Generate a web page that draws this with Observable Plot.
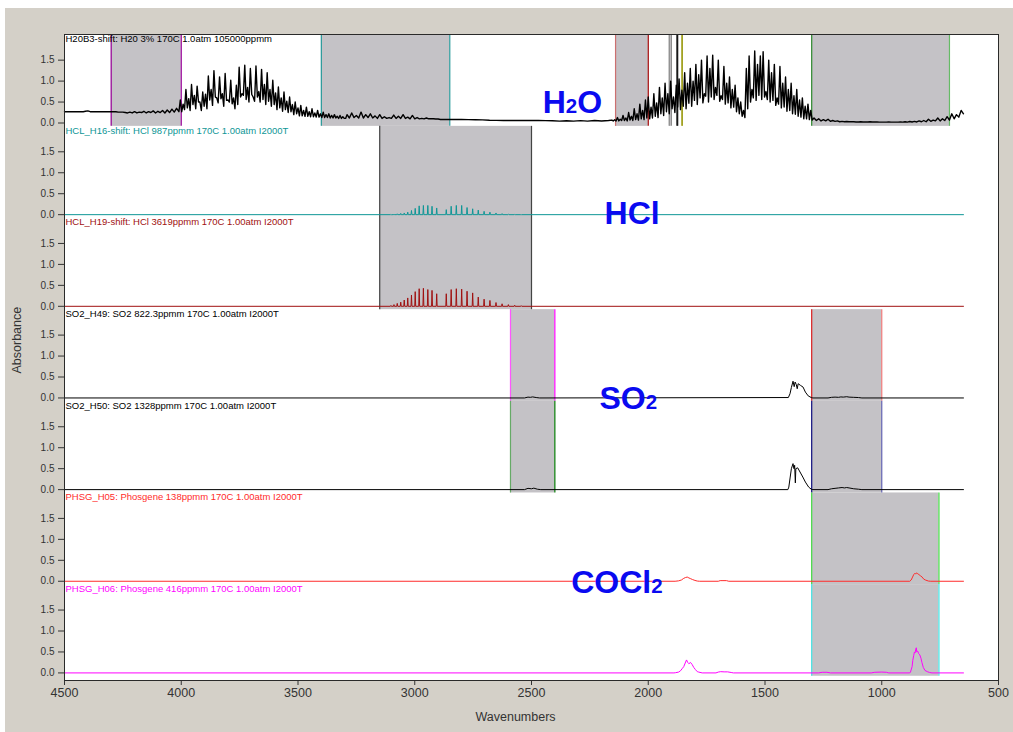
<!DOCTYPE html>
<html>
<head>
<meta charset="utf-8">
<script src="https://cdn.jsdelivr.net/npm/d3@7"></script>
<script src="https://cdn.jsdelivr.net/npm/@observablehq/plot@0.6"></script>
<style>
  body { margin: 0; background: #ffffff; }
  #chart { position: absolute; left: 5px; top: 8px; width: 1008px; height: 724px; background: #d4d0c8; }
</style>
</head>
<body>
<div id="chart"></div>
<script>
// ---- stacked reference spectra: seven panels sharing one wavenumber axis ----

const panelTitles = [
  "H20B3-shift: H20 3% 170C 1.0atm 105000ppmm",
  "HCL_H16-shift: HCl 987ppmm 170C 1.00atm I2000T",
  "HCL_H19-shift: HCl 3619ppmm 170C 1.00atm I2000T",
  "SO2_H49: SO2 822.3ppmm 170C 1.00atm I2000T",
  "SO2_H50: SO2 1328ppmm 170C 1.00atm I2000T",
  "PHSG_H05: Phosgene 138ppmm 170C 1.00atm I2000T",
  "PHSG_H06: Phosgene 416ppmm 170C 1.00atm I2000T"
];
const panelColors = ["#000000", "#0e9696", "#a01010", "#000000", "#000000", "#ff2b2b", "#ff00ff"];
const panelStrokeWidths = [1.4, 1, 1, 1, 1, 1, 1];

const xTicks = [4500, 4000, 3500, 3000, 2500, 2000, 1500, 1000, 500];
const yTickValues = [0, 0.5, 1.0, 1.5];

// Water vapour, sampled on regular wavenumber grids (start, step)
const h2oEdgeStart = 4500, h2oEdgeStep = 10;
const h2oEdge = [
  0.27,0.27,0.27,0.27,0.27,0.27,0.27,0.27,0.27,0.28,
  0.29,0.27,0.27,0.27,0.27,0.27,0.27,0.27,0.27,0.27,
  0.27,0.27,0.27,0.26,0.26,0.26,0.25,
  0.24,0.26,0.24,0.27,0.24,0.26,0.25,0.28,0.24,0.27,
  0.25,0.29,0.24,0.28,0.25,0.30,0.24,0.31,0.25,0.33,
  0.26,0.35,0.27
];
const h2oStretchStart = 4004, h2oStretchStep = 6;
const h2oStretch = [
  0.55,0.27, 0.45,0.32, 0.80,0.36, 0.58,0.30, 0.92,0.44,
  0.66,0.34, 0.88,0.50, 0.50,0.30, 0.74,0.40, 0.69,0.34,
  1.12,0.55, 0.80,0.42, 1.25,0.62, 0.60,0.48, 1.10,0.58,
  0.70,0.40, 1.18,0.54, 0.55,0.50, 1.02,0.46, 0.60,0.34,
  0.90,0.44, 1.33,0.62, 0.70,0.66, 1.38,0.56, 0.85,0.50,
  1.30,0.68, 0.62,0.52, 1.36,0.62, 0.75,0.50, 1.28,0.56,
  0.92,0.44, 1.20,0.52, 0.80,0.40, 1.02,0.44, 0.72,0.32,
  0.86,0.36, 0.60,0.28, 0.74,0.32, 0.52,0.25, 0.62,0.27,
  0.44,0.20, 0.50,0.22, 0.36,0.17, 0.42,0.17, 0.30,0.16,
  0.38,0.16, 0.27,0.15, 0.34,0.15, 0.24,0.14, 0.30,0.14,
  0.22,0.13, 0.26,0.13, 0.20,0.13, 0.22,0.12, 0.18,0.12,
  0.20,0.12, 0.16,0.11, 0.18,0.11, 0.15,0.11, 0.11
];
const h2oQuietStart = 3290, h2oQuietStep = 10;
const h2oQuiet = [
  0.20,0.12,0.24,0.13,0.18,0.12,0.26,0.12,0.20,0.13,
  0.22,0.12,0.17,0.11,0.20,0.11,0.15,0.11,0.13,0.11,
  0.19,0.11,0.16,0.11,0.20,0.11,0.14,0.10,0.18,0.10,
  0.13,0.10,0.11,0.10,0.12,0.10,0.10,0.10,0.095,0.095
];
const h2oFlatStart = 2890, h2oFlatStep = 30;
const h2oFlat = [
  0.085,0.085,0.083,0.082,0.080,0.078,0.075,0.065,0.062,0.060,
  0.060,0.060,0.060,0.060,0.060,0.058,0.055,0.045,0.055,0.045,
  0.058,0.045,0.060,0.048,0.060
];
const h2oBendStart = 2156, h2oBendStep = 6;
const h2oBend = [
  0.07,0.05, 0.08,0.05, 0.13,0.05, 0.09,0.06, 0.18,0.06,
  0.12,0.05, 0.25,0.07, 0.16,0.06, 0.34,0.08, 0.22,0.07,
  0.45,0.10, 0.30,0.08, 0.55,0.12, 0.62,0.10, 0.38,0.12,
  0.70,0.16, 0.48,0.13, 0.85,0.22, 0.60,0.18, 0.95,0.27,
  0.70,0.22, 1.00,0.34, 0.62,0.25, 0.90,0.38, 1.05,0.32,
  0.78,0.40, 1.20,0.34, 0.95,0.47, 1.30,0.40, 1.00,0.54,
  1.40,0.44, 1.15,0.60, 1.50,0.48, 0.70,0.64, 1.60,0.50,
  1.30,0.62, 1.62,0.56, 0.85,0.66, 1.50,0.52, 0.65,0.56,
  1.35,0.45, 0.95,0.48, 1.10,0.36, 0.80,0.38, 0.90,0.27,
  0.60,0.22, 0.50,0.16, 0.30,0.13, 1.30,0.34, 1.60,0.50,
  0.80,0.60, 1.72,0.54, 1.40,0.66, 1.60,0.56, 1.70,0.62,
  0.75,0.56, 1.50,0.50, 1.20,0.54, 1.40,0.42, 0.60,0.45,
  1.35,0.36, 0.95,0.38, 1.10,0.28, 0.80,0.30, 0.95,0.22,
  0.65,0.21, 0.80,0.16, 0.55,0.14, 0.60,0.10, 0.40,0.10,
  0.45,0.08, 0.30,0.07
];
const h2oTailStart = 1290, h2oTailStep = 10;
const h2oTail = [
  0.12,0.06,0.10,0.05,0.08,0.05,0.09,0.04,0.06,0.04,
  0.05,0.03,0.04,0.03,0.035,0.03,0.03,0.03,0.025,0.025,
  0.03,0.025,0.025,0.025,0.03,0.025,0.025,0.025,0.02,0.02,
  0.02,0.02,0.025,0.02,0.02,0.02,0.02,0.025,0.02,0.03,
  0.02,0.035,0.025,0.04,0.025,0.05,0.03,0.06,0.03,0.09,
  0.04,0.07,0.05,0.12,0.05,0.10,0.06,0.15,0.07,0.22,
  0.10,0.20,0.14,0.30,0.22
];

// HCl rotational lines (R12 … R0, P1 … P14)
const hclLineWn = [3102,3089,3075,3060,3045,3030,3014,2998,2981,2963,2944,2926,2906,
                   2865,2844,2822,2799,2776,2752,2728,2703,2678,2652,2626,2599,2572,2544];
const hcl987 = [0.01,0.015,0.02,0.03,0.04,0.06,0.10,0.15,0.21,0.22,0.22,0.20,0.16,
                0.12,0.20,0.22,0.22,0.17,0.14,0.11,0.08,0.06,0.04,0.025,0.01,0.005,0];
const hcl3619 = [0.02,0.04,0.07,0.10,0.15,0.20,0.27,0.35,0.42,0.43,0.40,0.38,0.30,
                 0.30,0.40,0.42,0.41,0.36,0.32,0.22,0.17,0.14,0.09,0.06,0.04,0.025,0.015];

// SO2
const so2LowWn = [4500,2530,2515,2505,2495,2480,2465,1400,1393,1387,1380,1375,1371,1366,1362,1358,1348,1337,1327,1315,1302,1295,
                  1230,1215,1200,1185,1175,1165,1150,1140,1120,1100,1085,650];
const so2LowA  = [0,0,0.02,0.015,0.025,0.01,0,0.01,0.10,0.25,0.40,0.27,0.38,0.32,0.22,0.34,0.30,0.26,0.14,0.05,0.01,0,
                  0,0.015,0.02,0.015,0.025,0.02,0.03,0.02,0.015,0.01,0,0];
const so2HighWn = [4500,2530,2515,2500,2490,2475,2460,1402,1398,1392,1387,1380,1376,1373,1370,1368,1360,1350,1338,1327,1313,1302,1295,
                   1230,1215,1200,1185,1170,1160,1150,1140,1120,1100,1085,650];
const so2HighA  = [0,0,0.03,0.02,0.035,0.01,0,0,0.06,0.30,0.50,0.62,0.50,0.58,0.16,0.50,0.52,0.42,0.30,0.18,0.06,0.01,0,
                   0,0.02,0.03,0.04,0.05,0.04,0.05,0.04,0.02,0.01,0,0];

// Phosgene
const cocl2LowWn = [4500,1885,1870,1858,1848,1840,1833,1826,1818,1810,1800,1790,1780,1700,1692,1680,1665,1655,
                    880,874,868,863,858,855,851,846,841,834,827,820,813,800,790,650];
const cocl2LowA  = [0,0,0.01,0.03,0.07,0.09,0.10,0.08,0.06,0.04,0.02,0.005,0,0,0.015,0.015,0.015,0,
                    0,0.03,0.10,0.16,0.19,0.17,0.20,0.18,0.16,0.13,0.10,0.05,0.03,0.005,0,0];
const cocl2HighWn = [4500,1890,1883,1870,1862,1855,1848,1840,1836,1831,1826,1819,1812,1805,1798,1790,1784,1769,
                     1710,1700,1690,1675,1660,1645,1635,1270,1255,1235,1220,1045,1030,1000,980,970,
                     880,877,870,867,863,860,857,855,852,850,846,842,837,832,828,822,815,805,795,785,650];
const cocl2HighA  = [0,0,0.005,0.02,0.05,0.10,0.15,0.26,0.31,0.25,0.22,0.25,0.20,0.13,0.08,0.03,0.02,0,
                     0,0.02,0.03,0.025,0.025,0.01,0,0,0.015,0.015,0,0,0.015,0.02,0.015,0,
                     0,0.02,0.15,0.30,0.42,0.50,0.48,0.55,0.60,0.50,0.52,0.46,0.43,0.35,0.25,0.13,0.06,0.03,0.01,0,0];

// Shaded analysis windows: panels covered (top..bottom), wavenumber edges, edge colours
const windowTop    = [0,0,0,0,0,0,0,1,3,4,3,4,5,6];
const windowBottom = [0,0,0,0,0,0,0,2,3,4,3,4,5,6];
const windowHi     = [4300,3400,2140,1910,1877,1855,1300,3150,2590,2590,1300,1300,1300,1300];
const windowLo     = [4000,2850,2000,1901,1874,1855,710,2500,2400,2400,1000,1000,755,755];
const windowEdgeHi = ["#990099","#2a9a9a","#cc7070","#8a8a8a","#111111","#9a9a10","#2e8b2e","#444444","#ff55ff","#66aa66","#dd2020","#101080","#44dd44","#44e6e6"];
const windowEdgeLo = ["#990099","#2a9a9a","#a00000","#8a8a8a","#111111","#9a9a10","#66bb66","#444444","#ff00ff","#007700","#ee7777","#6060b0","#44dd44","#44e6e6"];

// Formula annotations
const formulaText  = ["H2O", "HCl", "SO2", "COCl2"];
const formulaPanel = [0, 1, 3, 5];
const formulaWn    = [2452, 2187, 2209, 2330];
const formulaBase  = [0.243, -0.217, -0.27, -0.284];

// ---- layout of the stack ----
const SPACING = 2.187;      // absorbance units allotted to each panel
const FLOOR = -0.181;       // room below the lowest baseline
const HEAD = 2.112;         // room above the top baseline
const nPanels = panelTitles.length;
const offsetOf = k => (nPanels - 1 - k) * SPACING;

const grid = (start, step, values) => values.map((a, i) => ({wn: start - i * step, a}));
const pairs = (wns, values) => wns.map((wn, i) => ({wn, a: values[i]}));
function lineSpectrum(centers, heights) {
  const pts = [{wn: 4500, a: 0}];
  centers.forEach((c, i) => {
    pts.push({wn: c + 2, a: 0}, {wn: c, a: heights[i]}, {wn: c - 2, a: 0});
  });
  pts.push({wn: 650, a: 0});
  return pts;
}

const spectra = [
  [...grid(h2oEdgeStart, h2oEdgeStep, h2oEdge),
   ...grid(h2oStretchStart, h2oStretchStep, h2oStretch),
   ...grid(h2oQuietStart, h2oQuietStep, h2oQuiet),
   ...grid(h2oFlatStart, h2oFlatStep, h2oFlat),
   ...grid(h2oBendStart, h2oBendStep, h2oBend),
   ...grid(h2oTailStart, h2oTailStep, h2oTail)],
  lineSpectrum(hclLineWn, hcl987),
  lineSpectrum(hclLineWn, hcl3619),
  pairs(so2LowWn, so2LowA),
  pairs(so2HighWn, so2HighA),
  pairs(cocl2LowWn, cocl2LowA),
  pairs(cocl2HighWn, cocl2HighA)
];

const windows = windowHi.map((hi, i) => ({
  hi, lo: windowLo[i],
  y1: offsetOf(windowBottom[i]) - 0.08,
  y2: offsetOf(windowTop[i]) + SPACING - 0.08,
  edgeHi: windowEdgeHi[i], edgeLo: windowEdgeLo[i]
}));

const yTicks = [];
const yTickLabel = new Map();
for (let k = 0; k < nPanels; k++) {
  for (const v of yTickValues) {
    const pos = offsetOf(k) + v;
    yTicks.push(pos);
    yTickLabel.set(pos, v.toFixed(1));
  }
}

const formulas = formulaText.map((t, i) => ({t, wn: formulaWn[i], y: offsetOf(formulaPanel[i]) + formulaBase[i]}));

const font = "'Liberation Sans', Arial, Helvetica, sans-serif";

const plot = Plot.plot({
  width: 1008,
  height: 724,
  marginLeft: 59,
  marginRight: 15,
  marginTop: 26,
  marginBottom: 52,
  style: {background: "#d4d0c8", fontFamily: font, color: "#333333"},
  x: {domain: [4500, 500]},
  y: {domain: [FLOOR, offsetOf(0) + HEAD]},
  color: {type: "identity"},
  marks: [
    Plot.frame({fill: "white", stroke: "none"}),
    Plot.rect(windows, {x1: "hi", x2: "lo", y1: "y1", y2: "y2", fill: "#c4c2c6"}),
    Plot.ruleX(windows, {x: "hi", y1: "y1", y2: "y2", stroke: "edgeHi", strokeWidth: 1.2}),
    Plot.ruleX(windows, {x: "lo", y1: "y1", y2: "y2", stroke: "edgeLo", strokeWidth: 1.2}),
    ...spectra.map((pts, k) => Plot.line(pts, {
      x: "wn", y: d => d.a + offsetOf(k), stroke: panelColors[k], strokeWidth: panelStrokeWidths[k]
    })),
    Plot.text(panelTitles, {
      x: 4500, y: (d, i) => offsetOf(i) + SPACING, text: d => d,
      fill: (d, i) => panelColors[i], textAnchor: "start", lineAnchor: "bottom",
      dx: 1, dy: 10.8, fontSize: 9.5
    }),
    Plot.text(formulas, {
      x: "wn", y: "y", text: "t", textAnchor: "start", lineAnchor: "bottom",
      fill: "#0a0af0", fontSize: 32, fontWeight: "bold"
    }),
    Plot.axisX({ticks: xTicks, tickFormat: "d", tickSize: 5, tickPadding: 3, fontSize: 12.5, label: null}),
    Plot.axisY({ticks: yTicks, tickFormat: d => yTickLabel.get(d), tickSize: 6, tickPadding: 4, fontSize: 10, label: null}),
    Plot.text(["Wavenumbers"], {text: d => d, frameAnchor: "bottom", dx: -16, dy: 40, lineAnchor: "bottom", fontSize: 12.5, fill: "#333333"}),
    Plot.text(["Absorbance"], {text: d => d, frameAnchor: "left", rotate: -90, dx: -48, dy: 16, fontSize: 12.5, fill: "#333333"}),
    Plot.frame({stroke: "#2a2a2a"})
  ]
});

// subscript digits in the chemical formulas, kept on the baseline
d3.select(plot).selectAll("text")
  .filter(function () { return formulaText.includes(this.textContent); })
  .each(function () {
    const s = this.textContent;
    this.textContent = "";
    for (const part of s.match(/\d+|\D+/g)) {
      const t = d3.select(this).append("tspan").text(part);
      if (/\d/.test(part)) t.attr("font-size", "0.64em");
    }
  });

document.getElementById("chart").append(plot);
</script>
</body>
</html>
